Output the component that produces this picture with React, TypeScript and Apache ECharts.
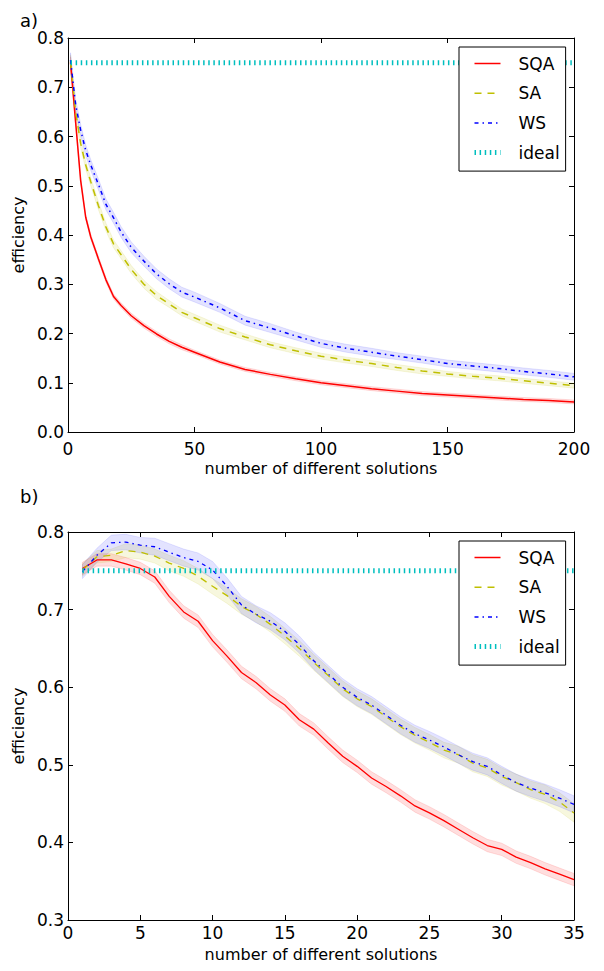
import React, { useEffect, useRef } from "react";
import * as echarts from "echarts";

// ---------- Panel a) data ----------
const topX = [1, 3, 5, 7, 9, 12, 15, 18, 21, 25, 30, 35, 40, 45, 50, 60, 70, 80, 90, 100, 110, 120, 130, 140, 150, 160, 170, 180, 190, 200];
const topSQA = [0.75, 0.63, 0.511, 0.436, 0.396, 0.352, 0.309, 0.275, 0.257, 0.236, 0.216, 0.199, 0.184, 0.172, 0.162, 0.142, 0.127, 0.117, 0.108, 0.1, 0.094, 0.088, 0.083, 0.078, 0.075, 0.072, 0.069, 0.066, 0.064, 0.061];
const topSA = [0.752, 0.65, 0.586, 0.542, 0.508, 0.46, 0.416, 0.382, 0.36, 0.33, 0.3, 0.277, 0.26, 0.243, 0.232, 0.21, 0.193, 0.177, 0.165, 0.154, 0.146, 0.139, 0.131, 0.124, 0.118, 0.113, 0.109, 0.104, 0.099, 0.094];
const topWS = [0.755, 0.665, 0.613, 0.572, 0.542, 0.503, 0.462, 0.435, 0.406, 0.375, 0.347, 0.321, 0.301, 0.284, 0.274, 0.252, 0.226, 0.211, 0.195, 0.18, 0.17, 0.162, 0.154, 0.147, 0.139, 0.134, 0.129, 0.123, 0.118, 0.112];
const topErrSQA = [0.012, 0.008, 0.006, 0.005, 0.005, 0.005, 0.005, 0.005, 0.005, 0.005, 0.005, 0.005, 0.005, 0.005, 0.004, 0.004, 0.004, 0.004, 0.004, 0.004, 0.004, 0.004, 0.004, 0.004, 0.004, 0.004, 0.004, 0.004, 0.004, 0.004];
const topErrSA = [0.014, 0.01, 0.009, 0.008, 0.008, 0.008, 0.008, 0.008, 0.008, 0.008, 0.008, 0.008, 0.007, 0.007, 0.007, 0.007, 0.006, 0.006, 0.006, 0.006, 0.006, 0.006, 0.006, 0.006, 0.005, 0.005, 0.005, 0.005, 0.005, 0.005];
const topErrWS = [0.015, 0.012, 0.012, 0.011, 0.011, 0.011, 0.011, 0.011, 0.011, 0.011, 0.01, 0.01, 0.01, 0.01, 0.01, 0.009, 0.009, 0.009, 0.008, 0.008, 0.008, 0.008, 0.007, 0.007, 0.007, 0.007, 0.007, 0.007, 0.007, 0.007];
const topIdealX = [1, 200];
const topIdeal = [0.75, 0.75];

// ---------- Panel b) data ----------
const botX = [1, 2, 3, 4, 5, 6, 7, 8, 9, 10, 11, 12, 13, 14, 15, 16, 17, 18, 19, 20, 21, 22, 23, 24, 25, 26, 27, 28, 29, 30, 31, 32, 33, 34, 35];
const botSQA = [0.753, 0.764, 0.764, 0.759, 0.753, 0.742, 0.717, 0.697, 0.685, 0.66, 0.64, 0.619, 0.606, 0.59, 0.577, 0.558, 0.546, 0.528, 0.511, 0.498, 0.483, 0.472, 0.46, 0.447, 0.438, 0.428, 0.417, 0.406, 0.396, 0.391, 0.381, 0.374, 0.366, 0.359, 0.352];
const botSA = [0.751, 0.768, 0.77, 0.776, 0.774, 0.769, 0.76, 0.753, 0.743, 0.73, 0.718, 0.704, 0.694, 0.681, 0.666, 0.65, 0.632, 0.615, 0.598, 0.585, 0.575, 0.562, 0.549, 0.538, 0.529, 0.519, 0.513, 0.502, 0.496, 0.485, 0.477, 0.468, 0.462, 0.452, 0.438];
const botWS = [0.749, 0.77, 0.786, 0.787, 0.783, 0.781, 0.774, 0.767, 0.762, 0.751, 0.73, 0.706, 0.694, 0.685, 0.672, 0.655, 0.634, 0.617, 0.6, 0.587, 0.577, 0.564, 0.551, 0.54, 0.532, 0.523, 0.513, 0.504, 0.498, 0.487, 0.477, 0.47, 0.464, 0.457, 0.449];
const botErrSQA = [0.008, 0.008, 0.008, 0.008, 0.008, 0.008, 0.008, 0.008, 0.008, 0.008, 0.008, 0.008, 0.008, 0.008, 0.008, 0.008, 0.008, 0.008, 0.008, 0.008, 0.008, 0.008, 0.008, 0.008, 0.008, 0.008, 0.008, 0.008, 0.008, 0.008, 0.008, 0.008, 0.008, 0.008, 0.008];
const botErrSA = [0.008, 0.008, 0.008, 0.009, 0.009, 0.009, 0.01, 0.01, 0.01, 0.01, 0.01, 0.01, 0.01, 0.01, 0.01, 0.01, 0.01, 0.01, 0.01, 0.01, 0.01, 0.01, 0.01, 0.01, 0.01, 0.01, 0.011, 0.011, 0.011, 0.011, 0.011, 0.011, 0.012, 0.012, 0.012];
const botErrWS = [0.009, 0.009, 0.01, 0.01, 0.01, 0.011, 0.011, 0.011, 0.011, 0.011, 0.011, 0.011, 0.011, 0.011, 0.011, 0.011, 0.011, 0.011, 0.011, 0.011, 0.011, 0.011, 0.011, 0.011, 0.011, 0.011, 0.011, 0.011, 0.011, 0.011, 0.011, 0.011, 0.011, 0.011, 0.011];
const botIdealX = [1, 35];
const botIdeal = [0.75, 0.75];

const legendNames = ["SQA", "SA", "WS", "ideal"];
const FONT = "DejaVu Sans";

const COLORS: any = {
  SQA: { line: "#ff0000", fill: "rgba(255,0,0,0.13)", edge: "rgba(255,0,0,0.12)" },
  SA: { line: "#bfbf00", fill: "rgba(191,191,0,0.13)", edge: "rgba(191,191,0,0.12)" },
  WS: { line: "#0000ff", fill: "rgba(0,0,255,0.11)", edge: "rgba(0,0,255,0.10)" },
  ideal: { line: "#00bfbf" },
};

const DASH: any = {
  SQA: "solid",
  SA: [7, 6],
  WS: [4, 4, 1.5, 4],
  ideal: [1.5, 3.6],
};

// Shaded band between (value - err) and (value + err), drawn through the axes' scales
function band(key: string, xs: number[], ys: number[], err: number[], axis: number) {
  const c = COLORS[key];
  return {
    type: "custom",
    name: key + " band " + axis,
    coordinateSystem: "cartesian2d",
    xAxisIndex: axis,
    yAxisIndex: axis,
    silent: true,
    z: 1,
    clip: true,
    encode: { x: 0, y: [1, 2] },
    data: xs.map((x, i) => [x, ys[i] - err[i], ys[i] + err[i]]),
    renderItem: (params: any, api: any) => {
      if (params.dataIndexInside !== 0) return null;
      const n = params.dataInsideLength;
      const upper: number[][] = [];
      const lower: number[][] = [];
      for (let i = 0; i < n; i++) {
        const x = api.value(0, i);
        lower.push(api.coord([x, api.value(1, i)]));
        upper.push(api.coord([x, api.value(2, i)]));
      }
      const pts = upper.concat(lower.reverse());
      return {
        type: "polygon",
        shape: { points: pts },
        style: { fill: c.fill, stroke: c.edge, lineWidth: 1 },
      };
    },
  };
}

function mainLine(key: string, xs: number[], ys: number[], axis: number, width: number) {
  return {
    type: "line",
    name: key,
    xAxisIndex: axis,
    yAxisIndex: axis,
    symbol: "none",
    z: 3,
    lineStyle: { color: COLORS[key].line, width, type: DASH[key] },
    itemStyle: { color: COLORS[key].line },
    data: xs.map((x, i) => [x, ys[i]]),
  };
}

const labelStyle = { fontSize: 17, fontFamily: FONT, color: "#000", lineHeight: 17 };
const axisLine = { show: true, onZero: false, lineStyle: { color: "#000", width: 1 } };
const axisTick = { show: true, inside: true, length: 5, lineStyle: { color: "#000", width: 1 } };

function xAxes(grid: number, max: number, interval: number, gap: number, margin: number) {
  return [
    {
      type: "value",
      gridIndex: grid,
      position: "bottom",
      min: 0,
      max,
      interval,
      axisLine,
      axisTick,
      splitLine: { show: false },
      axisLabel: { ...labelStyle, margin },
      name: "number of different solutions",
      nameLocation: "middle",
      nameGap: gap,
      nameTextStyle: { fontSize: 16, fontFamily: FONT, color: "#000", lineHeight: 16 },
    },
    {
      type: "value",
      gridIndex: grid,
      position: "top",
      min: 0,
      max,
      interval,
      axisLine,
      axisTick,
      splitLine: { show: false },
      axisLabel: { show: false },
    },
  ];
}

function yAxes(grid: number, min: number, max: number) {
  return [
    {
      type: "value",
      gridIndex: grid,
      position: "left",
      min,
      max,
      interval: 0.1,
      axisLine,
      axisTick,
      splitLine: { show: false },
      axisLabel: { ...labelStyle, margin: 4, formatter: (v: number) => v.toFixed(1) },
      name: "efficiency",
      nameLocation: "middle",
      nameGap: 38,
      nameTextStyle: { fontSize: 16, fontFamily: FONT, color: "#000" },
    },
    {
      type: "value",
      gridIndex: grid,
      position: "right",
      min,
      max,
      interval: 0.1,
      axisLine,
      axisTick,
      splitLine: { show: false },
      axisLabel: { show: false },
    },
  ];
}

function legend(top: number) {
  return {
    orient: "vertical",
    left: 459,
    top,
    data: legendNames.map((n) => ({
      name: n,
      lineStyle: { width: n === "ideal" ? 5 : 1.5 },
    })),
    itemWidth: 26,
    itemHeight: 14,
    itemGap: 12.7,
    padding: [8, 6, 10, 13],
    backgroundColor: "#ffffff",
    borderColor: "#000",
    borderWidth: 1,
    selectedMode: false,
    itemStyle: { opacity: 0, color: "rgba(0,0,0,0)", borderWidth: 0 },
    textStyle: { fontSize: 17, fontFamily: FONT, color: "#000", padding: [0, 0, 0, 13] },
    z: 10,
  };
}

export default function App() {
  const ref = useRef<HTMLDivElement>(null);
  useEffect(() => {
    if (!ref.current) return;
    const chart = echarts.init(ref.current, null, { renderer: "svg" });
    const series: any[] = [
      // panel a)
      band("SQA", topX, topSQA, topErrSQA, 0),
      band("SA", topX, topSA, topErrSA, 0),
      band("WS", topX, topWS, topErrWS, 0),
      mainLine("SQA", topX, topSQA, 0, 1.5),
      mainLine("SA", topX, topSA, 0, 1.5),
      mainLine("WS", topX, topWS, 0, 1.5),
      mainLine("ideal", topIdealX, topIdeal, 0, 5),
      // panel b)
      band("SQA", botX, botSQA, botErrSQA, 2),
      band("SA", botX, botSA, botErrSA, 2),
      band("WS", botX, botWS, botErrWS, 2),
      mainLine("SQA", botX, botSQA, 2, 1.3),
      mainLine("SA", botX, botSA, 2, 1.3),
      mainLine("WS", botX, botWS, 2, 1.3),
      mainLine("ideal", botIdealX, botIdeal, 2, 5),
    ];
    chart.setOption({
      animation: false,
      backgroundColor: "#ffffff",
      textStyle: { fontFamily: FONT },
      title: [
        { text: "a)", left: 15, top: 6, textStyle: { fontSize: 18, fontWeight: "normal", fontFamily: FONT, color: "#000" } },
        { text: "b)", left: 15, top: 482, textStyle: { fontSize: 18, fontWeight: "normal", fontFamily: FONT, color: "#000" } },
      ],
      grid: [
        { left: 68, top: 38, width: 506, height: 394 },
        { left: 68, top: 532, width: 506, height: 388 },
      ],
      xAxis: [...xAxes(0, 200, 50, 28, 8), ...xAxes(1, 35, 5, 26, 4)],
      yAxis: [...yAxes(0, 0, 0.8), ...yAxes(1, 0.3, 0.8)],
      legend: [legend(47), legend(541)],
      series,
    });
    return () => chart.dispose();
  }, []);
  return (
    <div
      ref={ref}
      style={{ position: "absolute", left: 0, top: 0, width: 604, height: 971, background: "#fff" }}
    />
  );
}
